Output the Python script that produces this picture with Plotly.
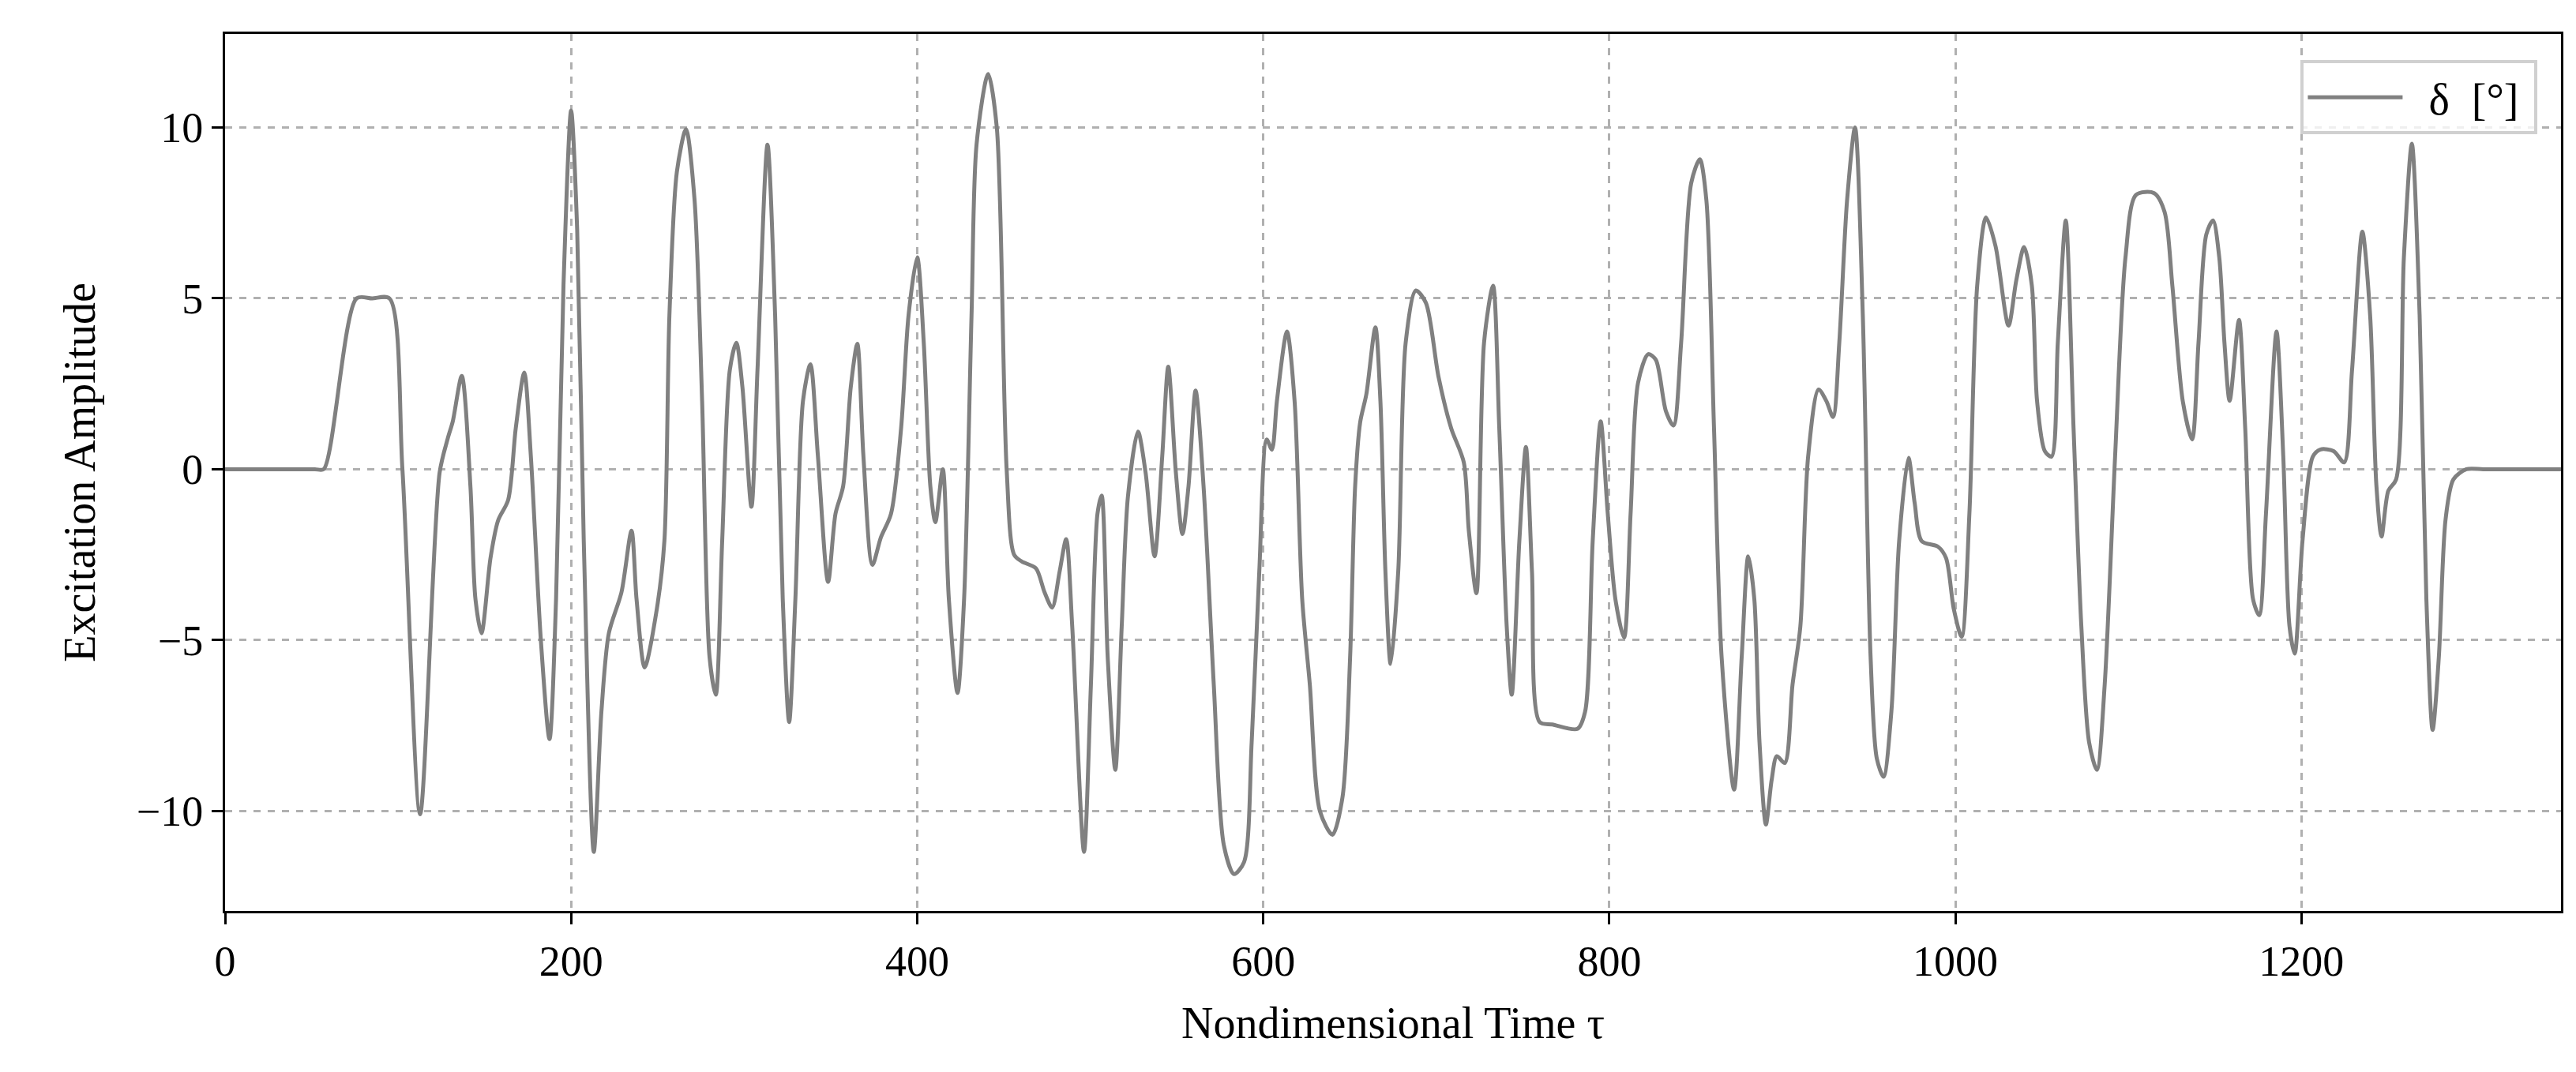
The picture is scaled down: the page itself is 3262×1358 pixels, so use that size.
import plotly.graph_objects as go

tau = [0, 20, 40, 52, 57, 76, 85, 95, 102.5, 112.7, 124, 128.7, 131.6, 136.8, 141.8, 144.7, 148.2, 153.4, 157.8, 163.6, 168, 172.9, 176.7, 182.5, 187.5, 191.3, 195.6, 200, 203.5, 207.3, 213.1, 217.5, 221.8, 229.1, 234.9, 237.8, 242.5, 249.5, 253.9, 256.8, 261.1, 266.4, 271.3, 275.7, 280, 283.6, 287.3, 291.7, 295.5, 299, 304.2, 307.7, 313.5, 317.9, 322.3, 326, 329.6, 334, 338.3, 342.6, 348.5, 352.8, 357.2, 361.6, 365.4, 368.9, 374.1, 379, 384.9, 390.7, 395, 400, 403.8, 407.6, 410.5, 414.8, 418.3, 423.3, 427.1, 431.4, 434.3, 441, 446,
       451.7, 456, 460.4, 468.6, 473.6, 478, 482.3, 486.1, 489.6, 496.4, 500.4, 504.2, 506.6, 510.1, 514.5, 518.2, 521.8, 527.6, 532, 537.2, 541.6, 545.1, 549.5, 553.3, 556.8, 560.9, 565.5, 571.4, 577.2, 583.1, 588.9, 593.3, 597.7, 602, 605, 607.9, 613.7, 618.1, 622.5, 626.9, 632.7, 640, 645.8, 650.2, 653.1, 656, 659.6, 664.8, 667.7, 670.6, 673.6, 678, 682.3, 688.2, 694, 701.3, 708.6, 715.9, 718.8, 723.2, 727.6, 732.8, 736.4, 740.7, 743.6, 748, 751.8, 755.3, 759.7, 767, 781.6, 786, 790.4, 795, 799.1, 803.5, 808.5, 812.3, 816.6, 822.5, 826.9, 832.7, 837.1, 841.5, 847.3, 852.3, 856.1, 860.5, 864.9, 872.1, 876.5, 880.3, 883.8, 886.8, 890.5,
       893.8, 896.8, 901.4, 905.9, 910.4, 914.9, 920.9, 925.4, 929.3, 932.9, 937.4, 942, 946.5, 951, 954.6, 958.5, 963, 967.5, 972.9, 976.5, 980.5, 990, 994.6, 999.1, 1003.6, 1008.1, 1012.6, 1017.7, 1023.2, 1030.7, 1035.2, 1039.7, 1044.2, 1047.2, 1051.7, 1055.6, 1059.2, 1063.8, 1068.3, 1072.8, 1077.3, 1081.8, 1086.3, 1092.3, 1098.3, 1104.4, 1114.9, 1120.9, 1125.4, 1131.4, 1136.8, 1140.5, 1145, 1148.9, 1152.5, 1155.5, 1158.5, 1163.9, 1167.5, 1172, 1175.6, 1179.5, 1185.6, 1189.5, 1193.1, 1196.1, 1200.6, 1206.6, 1211.1, 1218.6, 1224.7, 1229.2, 1235.2, 1239.7, 1243.3, 1246.3, 1250.2, 1254.7, 1259.2, 1263.8, 1268.3, 1272.2, 1275.8, 1279.4, 1283.3, 1287.8, 1295.3, 1305, 1320, 1335, 1350]
delta = [0, 0, 0, 0, 0, 5, 5, 5, 0, -10.1, -0.1, 0.9, 1.4, 2.73, -0.5, -3.8, -4.8, -2.6, -1.5, -0.9, 1.2, 2.83, 0.4, -5, -7.9, -3.8, 5.4, 10.5, 7, -2.1, -11.2, -7.1, -4.8, -3.6, -1.8, -3.8, -5.8, -4.1, -2.1, 4.5, 8.7, 9.95, 7.9, 2, -5.5, -6.6, -2.1, 2.9, 3.7, 2.4, -1.1, 2.9, 9.5, 4.5, -3.8, -7.4, -3.8, 2, 3.07, 0.4, -3.3, -1.3, -0.5, 2.4, 3.67, 0.4, -2.8, -2, -1.3, 1.2, 4.5, 6.2, 3.7, -0.5, -1.55, 0, -3.8, -6.55, -3.8, 4.5, 9.5, 11.57, 10,
         0, -2.5, -2.7, -2.9, -3.6, -4.05, -3, -2.05, -4.6, -11.2, -6.3, -1.3, -0.77, -5.5, -8.8, -4.6, -0.8, 1.1, -0.1, -2.55, 0.37, 3, -0.1, -1.9, -0.5, 2.3, -0.5, -6.3, -11, -11.85, -11.5, -8, -3, 0.87, 0.57, 2, 4.03, 2, -3.8, -6.3, -10, -10.7, -9.6, -5.5, -0.5, 1.37, 2.2, 4.15, 2, -3, -5.7, -3, 3.7, 5.23, 4.87, 2.7, 1.2, 0.2, -1.8, -3.63, 3.7, 5.37, 1.2, -4.6, -6.6, -2.1, 0.65, -3, -7.4, -7.47, -7.6, -7.1, -2.1, 1.4, -1.3, -3.8, -4.93, -1.3, 2.53, 3.37, 3.2, 1.7, 1.28, 3.7, 8.37, 9.07, 7.87, 1.2, -5.5, -9.38, -5.5, -2.55, -3.8, -8, -10.4,
         -9.1, -8.4, -8.6, -6.3, -4.6, 0.37, 2.33, 2, 1.53, 3.7, 7.87, 10, 4.5, -5.5, -8.47, -9, -7.1, -2.1, 0.33, -1, -2.1, -2.27, -2.6, -4.1, -4.9, -1.3, 5.37, 7.37, 6.53, 4.2, 5.53, 6.5, 5.37, 2, 0.53, 0.37, 3.7, 7.28, 1.2, -4.6, -8, -8.8, -6.3, 0.37, 6.2, 8.03, 8.08, 7.53, 5.37, 2, 0.87, 3.7, 6.87, 7.28, 6.2, 3.7, 2, 4.37, 1.2, -3.8, -4.27, -1.3, 4.03, 0.37, -4.6, -5.4, -2.1, 0.37, 0.58, 0.53, 0.2, 2.87, 6.95, 4.5, -0.47, -1.97, -0.63, -0.3, 6.2, 9.53, 4.5, -3.8, -7.63, -5.5, -1.47, -0.3, 0, 0, 0, 0, 0]

x_ticks = [0, 200, 400, 600, 800, 1000, 1200]
y_ticks = [-10, -5, 0, 5, 10]
y_tick_text = ["\u221210", "\u22125", "0", "5", "10"]

FONT = "Liberation Serif"
fig = go.Figure()
fig.add_trace(go.Scatter(x=tau, y=delta, mode="lines", name="  \u03b4  [\u00b0] ",
                         line=dict(color="#808080", width=5, shape="spline", smoothing=0.8)))
axis_common = dict(showline=True, linecolor="black", linewidth=3, mirror=True,
                   ticks="outside", ticklen=14, tickwidth=3, tickcolor="black",
                   showgrid=True, gridcolor="#b0b0b0", griddash="dash", gridwidth=2.5,
                   zeroline=False, tickfont=dict(family=FONT, size=54, color="black"))
fig.update_layout(
    width=3262, height=1358, plot_bgcolor="white", paper_bgcolor="white",
    margin=dict(l=277, r=27, t=35, b=212),
    font=dict(family=FONT, size=54, color="black"),
    xaxis=dict(range=[0, 1350], tickvals=x_ticks,
               title=dict(text="Nondimensional Time \u03c4", font=dict(family=FONT, size=56), standoff=30),
               **axis_common),
    yaxis=dict(range=[-12.93, 12.74], tickvals=y_ticks, ticktext=y_tick_text,
               title=dict(text="Excitation Amplitude", font=dict(family=FONT, size=56), standoff=35),
               **axis_common),
    showlegend=True,
    legend=dict(x=0.99, y=0.97, xanchor="right", yanchor="top",
                bgcolor="rgba(255,255,255,0.8)", bordercolor="#d0d0d0", borderwidth=4,
                font=dict(family=FONT, size=56), itemwidth=120),
)
fig.write_html("out.html")
